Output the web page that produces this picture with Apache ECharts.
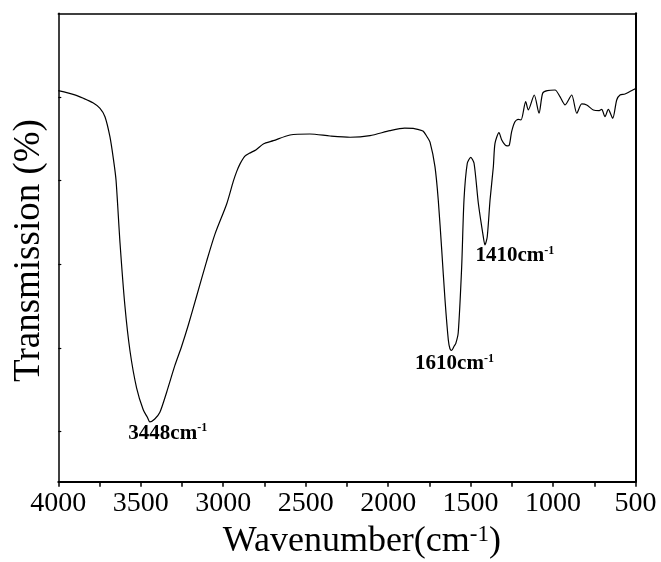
<!DOCTYPE html>
<html>
<head>
<meta charset="utf-8">
<script src="https://cdn.jsdelivr.net/npm/echarts@6/dist/echarts.min.js"></script>
<style>
html,body{margin:0;padding:0;background:#fff;}
#chart{width:661px;height:562px;}
</style>
</head>
<body>
<div id="chart"></div>
<script>
// Wavenumber (cm^-1)
var wavenumbers = [4000, 3900, 3848, 3790, 3747, 3717, 3687, 3666, 3650, 3626, 3596, 3565, 3525, 3485, 3460, 3445, 3415, 3384, 3343, 3293, 3252, 3212, 3161, 3100, 3050, 2979, 2939, 2918, 2898, 2870, 2842, 2800, 2757, 2696, 2595, 2474, 2352, 2231, 2110, 1989, 1900, 1848, 1808, 1787, 1766, 1746, 1716, 1696, 1675, 1655, 1635, 1625, 1615, 1600, 1590, 1575, 1554, 1540, 1520, 1499, 1479, 1453, 1423, 1413, 1399, 1382, 1362, 1352, 1328, 1311, 1291, 1277, 1265, 1251, 1231, 1211, 1194, 1166, 1150, 1114, 1085, 1063, 1035, 988, 958, 927, 887, 856, 826, 796, 756, 720, 705, 685, 665, 638, 614, 594, 564, 536, 507, 500];
// Transmission (arbitrary units)
var transmission = [46.75, 46.25, 45.84, 45.3, 44.64, 43.64, 41.25, 38.6, 36.07, 28.6, 21.0, 15.6, 11.2, 8.6, 7.7, 7.15, 7.5, 8.3, 10.7, 13.9, 16.2, 18.7, 22.2, 26.4, 29.6, 33.2, 35.9, 37.1, 38.0, 38.9, 39.26, 39.7, 40.38, 40.77, 41.45, 41.57, 41.33, 41.18, 41.37, 41.97, 42.27, 42.25, 42.05, 41.9, 41.3, 40.6, 37.66, 33.68, 27.7, 21.72, 16.94, 15.9, 15.7, 16.2, 16.5, 17.8, 25.7, 33.68, 38.07, 38.78, 38.07, 33.29, 29.29, 28.3, 29.29, 33.68, 37.66, 40.46, 41.73, 40.85, 40.26, 40.14, 40.26, 41.85, 43.04, 43.33, 43.25, 45.43, 44.44, 46.23, 44.05, 46.44, 46.75, 46.83, 46.03, 45.04, 46.23, 44.05, 45.16, 45.04, 44.44, 44.36, 44.52, 43.64, 44.52, 43.45, 45.64, 46.23, 46.35, 46.63, 46.91, 47.0];
// x tick labels
var xTickLabels = [4000, 3500, 3000, 2500, 2000, 1500, 1000, 500];
// y tick positions (no labels)
var yTickValues = [6, 16, 26, 36, 46];
// peak annotations
var peakLabels = ['3448', '1610', '1410'];
var peakCoords = [[3445, 7.15], [1615, 15.7], [1413, 28.3]];
var peakOffsets = [[-21, 1], [-36, 3], [-9, 0]];

var SERIF = '"Liberation Serif", "Times New Roman", serif';

var chart = echarts.init(document.getElementById('chart'), null, {renderer: 'canvas'});

var seriesData = wavenumbers.map(function (w, i) { return [w, transmission[i]]; });

var markData = peakLabels.map(function (t, i) {
  return {
    coord: peakCoords[i],
    label: {
      show: true,
      position: peakOffsets[i],
      align: 'left',
      verticalAlign: 'top',
      formatter: '{a|' + t + 'cm}{s|-1}'
    }
  };
});

chart.setOption({
  animation: false,
  backgroundColor: '#fff',
  grid: {
    left: 58.3,
    right: 25.5,
    top: 13.3,
    bottom: 80.3,
    outerBoundsMode: 'none',
    containLabel: false
  },
  xAxis: [{
    type: 'value',
    min: 500,
    max: 4000,
    interval: 250,
    inverse: true,
    name: '{a|Wavenumber(cm}{s|-1}{a|)}',
    nameLocation: 'middle',
    nameGap: 42,
    nameTextStyle: {
      padding: [0, 0, 0, 30],
      rich: {
        a: {fontFamily: SERIF, fontSize: 36, color: '#000', lineHeight: 36},
        s: {fontFamily: SERIF, fontSize: 23, color: '#000', lineHeight: 21, verticalAlign: 'top'}
      }
    },
    axisLine: {show: true, onZero: false, lineStyle: {color: '#000', width: 2}},
    axisTick: {show: true, inside: false, length: 5, lineStyle: {color: '#000', width: 1.5}},
    axisLabel: {
      show: true,
      margin: 8,
      fontFamily: SERIF,
      fontSize: 28,
      color: '#000',
      formatter: function (v) { return xTickLabels.indexOf(v) >= 0 ? String(v) : ''; }
    },
    splitLine: {show: false}
  }, {
    type: 'value',
    position: 'top',
    min: 500,
    max: 4000,
    inverse: true,
    axisLine: {show: true, onZero: false, lineStyle: {color: '#000', width: 1.5}},
    axisTick: {show: false},
    axisLabel: {show: false},
    splitLine: {show: false}
  }],
  yAxis: [{
    type: 'value',
    min: 0,
    max: 56,
    name: 'Transmission (%)',
    nameLocation: 'middle',
    nameGap: 11,
    nameRotate: 90,
    nameTextStyle: {fontFamily: SERIF, fontSize: 37, color: '#000', padding: [0, 6, 0, 0]},
    axisLine: {show: true, onZero: false, lineStyle: {color: '#000', width: 1.5}},
    axisTick: {show: true, inside: true, length: 3, customValues: yTickValues, lineStyle: {color: '#000', width: 1.2}},
    axisLabel: {show: false},
    splitLine: {show: false}
  }, {
    type: 'value',
    position: 'right',
    min: 0,
    max: 56,
    axisLine: {show: true, onZero: false, lineStyle: {color: '#000', width: 2}},
    axisTick: {show: false},
    axisLabel: {show: false},
    splitLine: {show: false}
  }],
  series: [{
    type: 'line',
    xAxisIndex: 0,
    yAxisIndex: 0,
    data: seriesData,
    showSymbol: false,
    smooth: 0.25,
    lineStyle: {color: '#000', width: 1.2},
    itemStyle: {color: '#000'},
    markPoint: {
      symbol: 'circle',
      symbolSize: 1,
      itemStyle: {color: 'rgba(0,0,0,0)'},
      label: {
        show: true,
        rich: {
          a: {fontFamily: SERIF, fontSize: 21, fontWeight: 'bold', color: '#000', lineHeight: 22},
          s: {fontFamily: SERIF, fontSize: 12, fontWeight: 'bold', color: '#000', lineHeight: 12, verticalAlign: 'top'}
        }
      },
      data: markData
    }
  }]
});
</script>
</body>
</html>
